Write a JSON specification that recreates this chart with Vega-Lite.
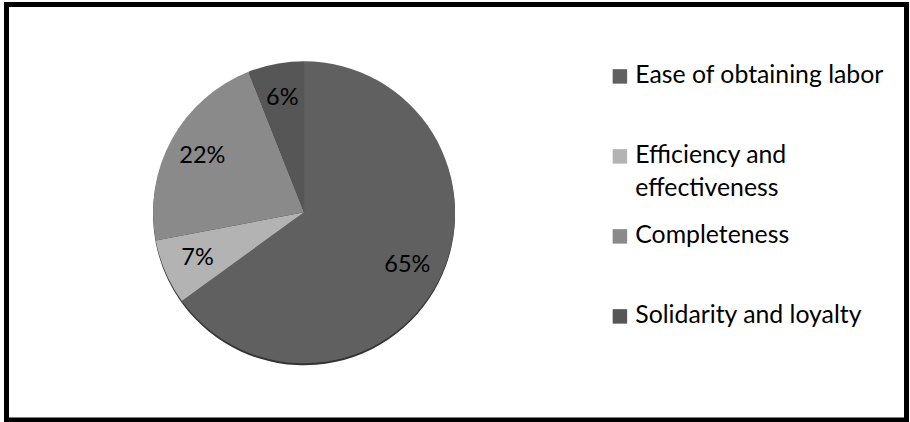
{
  "$schema": "https://vega.github.io/schema/vega-lite/v6.json",
  "width": 910,
  "height": 422,
  "autosize": {"type": "fit", "contains": "padding"},
  "padding": {"left": 6.5, "top": 4.5, "right": 3.5, "bottom": 2},
  "background": "white",
  "view": {"stroke": "#000000", "strokeWidth": 5, "fill": "white"},
  "data": {
    "values": [
      {"category": "Ease of obtaining labor", "share": 0.65, "rank": 1},
      {"category": "Efficiency and effectiveness", "share": 0.07, "rank": 2},
      {"category": "Completeness", "share": 0.22, "rank": 3},
      {"category": "Solidarity and loyalty", "share": 0.06, "rank": 4}
    ]
  },
  "layer": [
    {
      "mark": {"type": "arc", "radius": 151, "fill": "#333333", "x": {"expr": "width*0.3306"}, "y": {"expr": "height/2+2"}},
      "encoding": {
        "theta": {"field": "share", "type": "quantitative", "stack": true}
      }
    },
    {
      "mark": {"type": "arc", "radius": 151, "x": {"expr": "width*0.3306"}},
      "encoding": {
        "theta": {"field": "share", "type": "quantitative", "stack": true},
        "order": {"field": "rank", "type": "quantitative"},
        "color": {
          "field": "category",
          "type": "nominal",
          "scale": {
            "domain": ["Ease of obtaining labor", "Efficiency and effectiveness", "Completeness", "Solidarity and loyalty"],
            "range": ["#606060", "#b3b3b3", "#8a8a8a", "#565656"]
          },
          "legend": {
            "title": null,
            "orient": "none",
            "legendX": 601,
            "legendY": 59.5,
            "padding": 0,
            "gridAlign": "all",
            "columns": 1,
            "symbolType": "square",
            "symbolSize": 210,
            "symbolStrokeWidth": 0,
            "labelFont": "Lato",
            "labelFontSize": 24.8,
            "labelColor": "#000000",
            "labelOffset": 3,
            "labelLimit": 400,
            "rowPadding": 21,
            "labelExpr": "datum.label == 'Efficiency and effectiveness' ? ['Efficiency and', 'effectiveness'] : datum.label"
          }
        }
      }
    },
    {
      "mark": {"type": "text", "radius": 116, "x": {"expr": "width*0.3306"}, "font": "Lato", "fontSize": 23.5, "color": "#000000"},
      "encoding": {
        "theta": {"field": "share", "type": "quantitative", "stack": true},
        "order": {"field": "rank", "type": "quantitative"},
        "text": {"field": "share", "type": "quantitative", "format": ".0%"}
      }
    }
  ],
  "config": {
    "view": {"stroke": "#000000", "strokeWidth": 5},
    "style": {"guide-label": {"lineHeight": 33}}
  }
}
